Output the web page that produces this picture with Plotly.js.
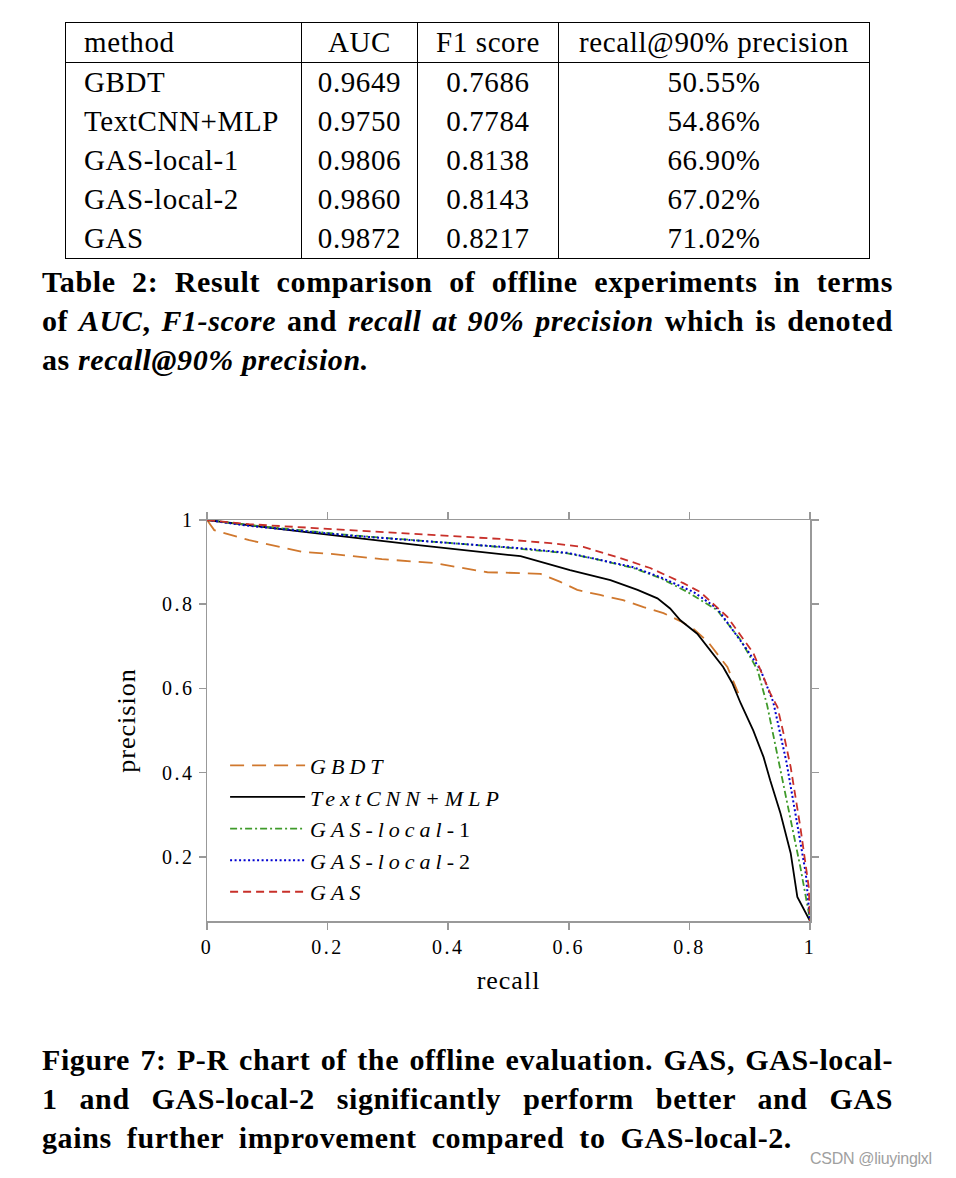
<!DOCTYPE html>
<html>
<head>
<meta charset="utf-8">
<script src="https://cdn.plot.ly/plotly-3.0.1.min.js"></script>
<style>
  html, body { margin:0; padding:0; background:#fff; }
  body { width:956px; height:1178px; position:relative; overflow:hidden; font-family:"Liberation Serif", "DejaVu Serif", serif; color:#000; }
  #chart { position:absolute; left:0; top:0; width:956px; height:1178px; z-index:0; }
  .ovl { position:absolute; z-index:2; }
  table.res { border-collapse:collapse; font-size:29px; letter-spacing:0.6px; }
  table.res td { padding:0; height:39px; line-height:39px; border-left:1.5px solid #000; border-right:1.5px solid #000; white-space:nowrap; }
  table.res { border:1.5px solid #000; }
  table.res tr.hdr td { border-bottom:1.5px solid #000; height:39px; }
  .cap { font-weight:bold; font-size:30px; line-height:39px; letter-spacing:0.6px; }
  .cap div { white-space:nowrap; }
  .just { text-align:justify; text-align-last:justify; }
  .wm { font-family:"Liberation Sans", Arial, sans-serif; font-size:16px; color:#a0a0a0; letter-spacing:-0.3px; }
  .legendtext { letter-spacing:5px; }
  .xtick text, .ytick text { letter-spacing:2.5px; }
  .g-xtitle text, .g-ytitle text { letter-spacing:1px; }
</style>
</head>
<body>
<div id="chart"></div>

<div class="ovl" style="left:65px; top:22px;">
<table class="res" id="tbl"></table>
</div>

<div class="ovl cap" style="left:42px; top:262px; width:851px;">
  <div class="just">Table 2: Result comparison of offline experiments in terms</div>
  <div class="just">of <i>AUC</i>, <i>F1-score</i> and <i>recall at 90% precision</i> which is denoted</div>
  <div>as <i>recall@90% precision.</i></div>
</div>

<div class="ovl cap" style="left:42px; top:1040px; width:851px;">
  <div class="just">Figure 7: P-R chart of the offline evaluation. GAS, GAS-local-</div>
  <div class="just">1 and GAS-local-2 significantly perform better and GAS</div>
  <div style="word-spacing:7px;">gains further improvement compared to GAS-local-2.</div>
</div>

<div class="ovl wm" style="left:810px; top:1150px;">CSDN @liuyinglxl</div>

<script>
// ---- Table data ----
const tableHeader = ["method", "AUC", "F1 score", "recall@90% precision"];
const methods = ["GBDT", "TextCNN+MLP", "GAS-local-1", "GAS-local-2", "GAS"];
const aucValues = ["0.9649", "0.9750", "0.9806", "0.9860", "0.9872"];
const f1Values = ["0.7686", "0.7784", "0.8138", "0.8143", "0.8217"];
const recallAt90 = ["50.55%", "54.86%", "66.90%", "67.02%", "71.02%"];

// ---- P-R curve data ----
const gbdtRecall = [0, 0.012, 0.07, 0.16, 0.21, 0.29, 0.375, 0.465, 0.52, 0.553, 0.586, 0.614, 0.652, 0.69, 0.724, 0.757, 0.785, 0.807, 0.83, 0.848, 0.863, 0.881];
const gbdtPrecision = [1, 0.976, 0.952, 0.924, 0.919, 0.907, 0.898, 0.876, 0.874, 0.872, 0.853, 0.834, 0.822, 0.81, 0.793, 0.779, 0.76, 0.741, 0.712, 0.679, 0.651, 0.589];

const textcnnRecall = [0, 0.154, 0.354, 0.52, 0.602, 0.669, 0.714, 0.747, 0.768, 0.785, 0.813, 0.835, 0.856, 0.871, 0.885, 0.906, 0.923, 0.934, 0.951, 0.968, 0.979, 1];
const textcnnPrecision = [1, 0.973, 0.94, 0.914, 0.881, 0.857, 0.834, 0.814, 0.79, 0.762, 0.73, 0.691, 0.651, 0.613, 0.565, 0.5, 0.437, 0.382, 0.304, 0.209, 0.105, 0.048];

const local1Recall = [0, 0.07, 0.237, 0.486, 0.598, 0.652, 0.707, 0.752, 0.797, 0.818, 0.846, 0.885, 0.913, 0.929, 0.948, 0.968, 0.984, 0.998, 1];
const local1Precision = [1, 0.988, 0.964, 0.936, 0.921, 0.905, 0.886, 0.862, 0.829, 0.81, 0.786, 0.715, 0.644, 0.56, 0.43, 0.287, 0.176, 0.067, 0.048];

const local2Recall = [0, 0.07, 0.237, 0.52, 0.598, 0.652, 0.707, 0.752, 0.807, 0.846, 0.896, 0.918, 0.939, 0.961, 0.979, 0.993, 1];
const local2Precision = [1, 0.986, 0.963, 0.933, 0.922, 0.906, 0.888, 0.864, 0.829, 0.79, 0.691, 0.644, 0.568, 0.425, 0.271, 0.161, 0.048];

const gasRecall = [0, 0.07, 0.237, 0.486, 0.569, 0.624, 0.68, 0.735, 0.79, 0.818, 0.863, 0.906, 0.934, 0.946, 0.956, 0.968, 0.984, 0.998, 1];
const gasPrecision = [1, 0.99, 0.976, 0.955, 0.945, 0.936, 0.912, 0.886, 0.85, 0.829, 0.77, 0.684, 0.589, 0.556, 0.494, 0.413, 0.271, 0.128, 0.048];

const seriesNames = ["<i>GBDT</i>", "<i>TextCNN+MLP</i>", "<i>GAS-local</i>-1", "<i>GAS-local</i>-2", "<i>GAS</i>"];

const xTicks = [0, 0.2, 0.4, 0.6, 0.8, 1];
const xTickText = ["0", "0.2", "0.4", "0.6", "0.8", "1"];
const yTicks = [0.2, 0.4, 0.6, 0.8, 1];
const yTickText = ["0.2", "0.4", "0.6", "0.8", "1"];

// build table
(function(){
  const tbl = document.getElementById('tbl');
  const widths = [235, 115, 140, 310];
  const aligns = ['left', 'center', 'center', 'center'];
  function row(cells, cls) {
    const tr = document.createElement('tr');
    if (cls) tr.className = cls;
    cells.forEach((c, i) => {
      const td = document.createElement('td');
      td.textContent = c;
      td.style.textAlign = aligns[i];
      if (i === 0) { td.style.paddingLeft = '18px'; td.style.width = (widths[i] - 18) + 'px'; }
      else td.style.width = widths[i] + 'px';
      tr.appendChild(td);
    });
    tbl.appendChild(tr);
  }
  row(tableHeader, 'hdr');
  methods.forEach((m, i) => row([m, aucValues[i], f1Values[i], recallAt90[i]]));
})();

const traces = [
  {x: gbdtRecall, y: gbdtPrecision, name: seriesNames[0], mode: 'lines',
   line: {color: '#d0782e', width: 1.8, dash: '14px,8px'}},
  {x: textcnnRecall, y: textcnnPrecision, name: seriesNames[1], mode: 'lines',
   line: {color: '#000000', width: 1.8}},
  {x: local1Recall, y: local1Precision, name: seriesNames[2], mode: 'lines',
   line: {color: '#3f9a2a', width: 1.8, dash: '7px,3px,2px,3px'}},
  {x: local2Recall, y: local2Precision, name: seriesNames[3], mode: 'lines',
   line: {color: '#0000d0', width: 2, dash: '2px,2.5px'}},
  {x: gasRecall, y: gasPrecision, name: seriesNames[4], mode: 'lines',
   line: {color: '#c8302a', width: 1.8, dash: '8px,5px'}}
];

const axisCommon = {
  showgrid: false, zeroline: false, showline: true, linecolor: '#999999', linewidth: 1.5,
  ticks: 'outside', ticklen: 7, tickwidth: 1.5, tickcolor: '#999999', mirror: 'ticks',
  tickfont: {family: '"Liberation Serif", serif', size: 20, color: '#000'}
};

const layout = {
  width: 956, height: 1178,
  margin: {l: 207, r: 146, t: 520, b: 257, pad: 0},
  paper_bgcolor: 'rgba(0,0,0,0)', plot_bgcolor: 'rgba(0,0,0,0)',
  showlegend: true,
  legend: {x: 0.03, y: 0.44, xanchor: 'left', yanchor: 'top', bgcolor: 'rgba(0,0,0,0)',
           font: {family: '"Liberation Serif", serif', size: 22, color: '#000'},
           itemwidth: 75, tracegroupgap: 0},
  xaxis: Object.assign({}, axisCommon, {
    range: [0, 1], tickvals: xTicks, ticktext: xTickText,
    title: {text: 'recall', font: {family: '"Liberation Serif", serif', size: 26, color: '#000'}, standoff: 14}
  }),
  yaxis: Object.assign({}, axisCommon, {
    range: [0.048, 1], tickvals: yTicks, ticktext: yTickText,
    title: {text: 'precision', font: {family: '"Liberation Serif", serif', size: 26, color: '#000'}, standoff: 19}
  })
};

Plotly.newPlot('chart', traces, layout, {displayModeBar: false, staticPlot: true});
</script>
</body>
</html>
